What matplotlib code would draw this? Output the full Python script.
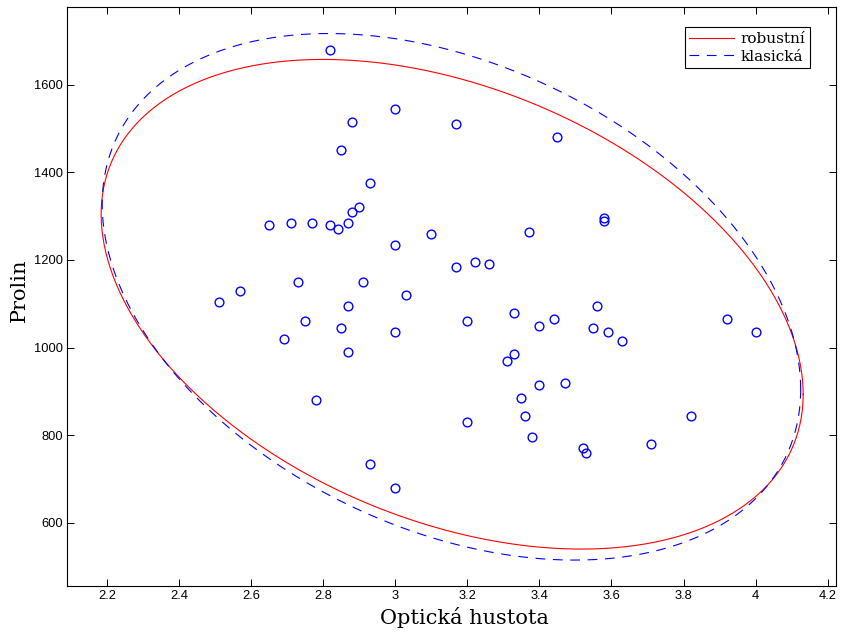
import numpy as np
import matplotlib
matplotlib.use("Agg")
import matplotlib.pyplot as plt

# --- data ---
optical_density = [2.82, 3.00, 2.88, 2.85, 2.93, 2.90, 2.88, 2.65, 2.71, 2.77,
                   2.82, 2.84, 2.87, 3.10, 3.00, 3.17, 3.45, 3.58, 3.58, 3.37,
                   3.17, 3.22, 3.26, 2.51, 2.57, 2.73, 2.91, 3.03, 2.87, 2.75,
                   2.85, 2.69, 3.00, 2.87, 2.78, 2.93, 3.00, 3.20, 3.33, 3.40,
                   3.44, 3.56, 3.55, 3.59, 3.63, 3.92, 4.00, 3.33, 3.31, 3.40,
                   3.47, 3.35, 3.36, 3.20, 3.38, 3.52, 3.53, 3.71, 3.82]
proline = [1680, 1545, 1515, 1450, 1375, 1320, 1310, 1280, 1285, 1285,
           1280, 1270, 1285, 1260, 1235, 1510, 1480, 1295, 1290, 1265,
           1185, 1195, 1190, 1105, 1130, 1150, 1150, 1120, 1095, 1060,
           1045, 1020, 1035, 990, 880, 735, 680, 1060, 1080, 1050,
           1065, 1095, 1045, 1035, 1015, 1065, 1035, 985, 970, 915,
           920, 885, 845, 830, 795, 770, 760, 780, 845]

# tolerance-ellipse parameters (centre, std devs, correlation)
robust_center = [3.158, 1099.0]
robust_sd = [0.3586, 205.7]
robust_rho = -0.368
classic_center = [3.156, 1116.0]
classic_sd = [0.3568, 221.2]
classic_rho = -0.352
chi2_scale = 2.7162  # sqrt of chi2(0.975, 2)

x_ticks = [2.2, 2.4, 2.6, 2.8, 3.0, 3.2, 3.4, 3.6, 3.8, 4.0, 4.2]
x_tick_labels = ["2.2", "2.4", "2.6", "2.8", "3", "3.2", "3.4", "3.6", "3.8", "4", "4.2"]
y_ticks = [600, 800, 1000, 1200, 1400, 1600]
legend_labels = ["robustní", "klasická"]
x_label = "Optická hustota"
y_label = "Prolin"


def ellipse_path(center, sd, rho, k):
    cov = np.array([[sd[0] ** 2, rho * sd[0] * sd[1]],
                    [rho * sd[0] * sd[1], sd[1] ** 2]])
    L = np.linalg.cholesky(cov)
    t = np.linspace(0, 2 * np.pi, 400)
    circ = np.vstack([np.cos(t), np.sin(t)])
    pts = np.array(center)[:, None] + k * (L @ circ)
    return pts[0], pts[1]


plt.rcParams['lines.scale_dashes'] = False

fig = plt.figure(figsize=(8.41, 6.34), dpi=100)
ax = fig.add_axes([0.0800, 0.0757, 0.9140, 0.9137])

rx, ry = ellipse_path(robust_center, robust_sd, robust_rho, chi2_scale)
cx, cy = ellipse_path(classic_center, classic_sd, classic_rho, chi2_scale)

ax.plot(rx, ry, color=(1, 0, 0), lw=0.8, label=legend_labels[0], zorder=2)
ax.plot(cx, cy, color=(0, 0, 1), lw=0.8, linestyle=(0, (7.0, 5.5)),
        label=legend_labels[1], zorder=2)
ax.plot(optical_density, proline, linestyle='none', marker='o', markersize=6.3,
        markerfacecolor='none', markeredgecolor=(0, 0, 1), markeredgewidth=1.0,
        zorder=3)

ax.set_xlim(2.09, 4.223)
ax.set_ylim(456, 1778)
ax.set_xticks(x_ticks)
ax.set_xticklabels(x_tick_labels)
ax.set_yticks(y_ticks)
ax.set_yticklabels([str(v) for v in y_ticks])

ax.tick_params(direction='in', length=5, width=0.7, top=True, right=True,
               labelsize=9.3, pad=3, colors='black')
for lab in ax.get_xticklabels() + ax.get_yticklabels():
    lab.set_fontfamily('Liberation Sans')
for sp in ax.spines.values():
    sp.set_linewidth(0.8)

ax.set_xlabel(x_label, fontfamily='DejaVu Serif', fontsize=15)
ax.set_ylabel(y_label, fontfamily='DejaVu Serif', fontsize=15)
ax.xaxis.set_label_coords(0.517, -0.036)
ax.yaxis.set_label_coords(-0.050, 0.510)

leg = ax.legend(loc='upper right', bbox_to_anchor=(0.9662, 0.9644),
                borderaxespad=0, prop={'family': 'DejaVu Serif', 'size': 11},
                handlelength=2.9, handletextpad=0.45, borderpad=0.3,
                labelspacing=0.25, fancybox=False, framealpha=1)
leg.get_frame().set_edgecolor('black')
leg.get_frame().set_linewidth(0.8)

fig.savefig("out.png", dpi=100)
